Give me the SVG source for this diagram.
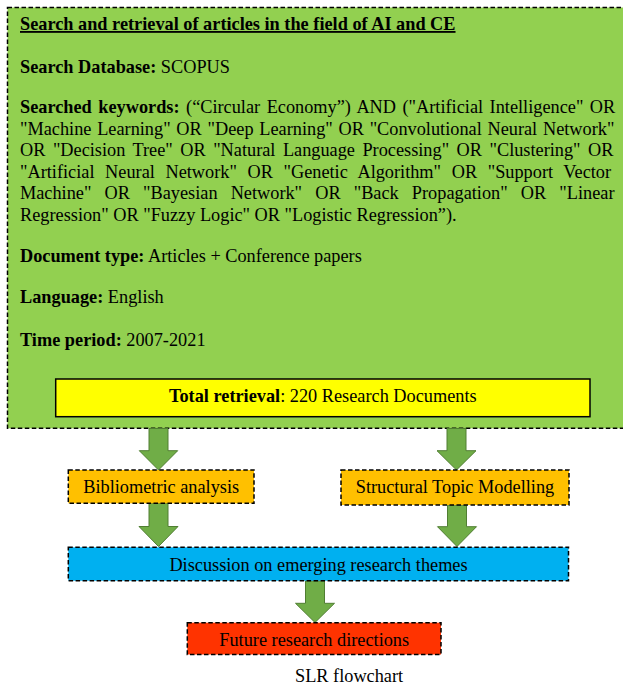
<svg xmlns="http://www.w3.org/2000/svg" width="623" height="686" viewBox="0 0 623 686">
<style>
text { font-family: "Liberation Serif", "Times New Roman", serif; font-size: 18.3px; fill: #000; }
.b { font-weight: bold; }
.dash { stroke: #000; stroke-width: 1.5; stroke-dasharray: 4.5 2.5; }
.arrow { fill: #70AD47; stroke: #507E32; stroke-width: 1; }
.mid { text-anchor: middle; }
</style>
<rect x="0" y="0" width="623" height="686" fill="#ffffff"/>
<g id="search">
<rect class="dash" x="7.5" y="7.5" width="630" height="420.8" fill="#92D050"/>
<text class="b" x="20" y="30" text-decoration="underline">Search and retrieval of articles in the field of AI and CE</text>
<text x="20" y="72.7"><tspan class="b">Search Database:</tspan> SCOPUS</text>
<text x="20" y="113" word-spacing="1.94"><tspan class="b">Searched keywords:</tspan> (“Circular Economy”) AND ("Artificial Intelligence" OR</text>
<text x="20" y="134.5" word-spacing="1.18">"Machine Learning" OR "Deep Learning" OR "Convolutional Neural Network"</text>
<text x="20" y="156" word-spacing="2.91">OR "Decision Tree" OR "Natural Language Processing" OR "Clustering" OR</text>
<text x="20" y="177.5" word-spacing="6.05">"Artificial Neural Network" OR "Genetic Algorithm" OR "Support Vector</text>
<text x="20" y="199" word-spacing="8.55">Machine" OR "Bayesian Network" OR "Back Propagation" OR "Linear</text>
<text x="20" y="220.5">Regression" OR "Fuzzy Logic" OR "Logistic Regression”).</text>
<text x="20" y="261.7"><tspan class="b">Document type:</tspan> Articles + Conference papers</text>
<text x="20" y="303.3"><tspan class="b">Language:</tspan> English</text>
<text x="20" y="346"><tspan class="b">Time period:</tspan> 2007-2021</text>
</g>
<g id="total">
<rect x="55.7" y="379" width="534.3" height="37.7" fill="#FFFF00" stroke="#000" stroke-width="1.5"/>
<text class="mid" x="322.8" y="401.7"><tspan class="b">Total retrieval</tspan>: 220 Research Documents</text>
</g>
<g id="connectors">
<polygon class="arrow" points="149,428.5 168,428.5 168,450.7 177.7,450.7 158.5,470 139.3,450.7 149,450.7"/>
<polygon class="arrow" points="447,428.5 466,428.5 466,450.7 476,450.7 456.5,470 437,450.7 447,450.7"/>
<polygon class="arrow" points="149,503.5 168,503.5 168,526.5 178,526.5 158.5,546.5 139,526.5 149,526.5"/>
<polygon class="arrow" points="447.5,505.2 466.5,505.2 466.5,526.7 476.5,526.7 457,546.5 437.5,526.7 447.5,526.7"/>
<polygon class="arrow" points="305.5,580.8 324.5,580.8 324.5,603.3 334.5,603.3 315,622.5 295.5,603.3 305.5,603.3"/>
</g>
<g id="bibliometric">
<rect class="dash" x="68.3" y="470" width="185.7" height="33.3" fill="#FFC000"/>
<text class="mid" x="161.2" y="493.3">Bibliometric analysis</text>
</g>
<g id="stm">
<rect class="dash" x="341" y="470" width="228" height="35" fill="#FFC000"/>
<text class="mid" x="455" y="493.3">Structural Topic Modelling</text>
</g>
<g id="discussion">
<rect class="dash" x="68.3" y="547.3" width="500.2" height="33.4" fill="#00B0F0"/>
<text class="mid" x="318.5" y="570.7">Discussion on emerging research themes</text>
</g>
<g id="future">
<rect class="dash" x="187.3" y="622.7" width="253.7" height="31.8" fill="#FF3300"/>
<text class="mid" x="314.2" y="645.7">Future research directions</text>
</g>
<text x="295" y="682.3">SLR flowchart</text>
</svg>
